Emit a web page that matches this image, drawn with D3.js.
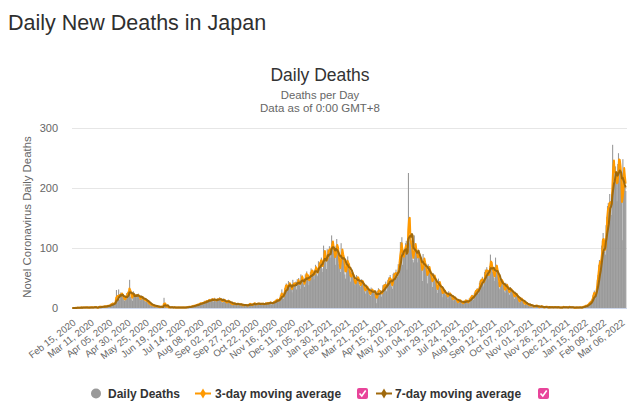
<!DOCTYPE html>
<html><head><meta charset="utf-8">
<script src="https://cdn.jsdelivr.net/npm/d3@7"></script>
<style>body{margin:0;background:#fff;} svg{display:block;font-family:"Liberation Sans",Arial,sans-serif;}</style>
</head><body><svg id="chart" width="640" height="411"></svg>
<script>
const startDate = "2020-02-15";
const deaths2020 = [
0,0,0,0,0,1,0,1,0,0,1,1,0,2,0,
1,1,0,2,1,1,0,1,0,2,1,1,2,0,1,2,1,2,0,0,1,2,3,2,1,3,1,2,3,4,2,
3,2,5,4,3,6,4,8,5,9,6,7,10,12,30,14,16,31,14,20,26,24,22,18,16,12,15,20,25,22,
28,23,47,19,14,26,12,28,21,18,20,23,18,22,24,17,15,13,21,18,16,14,12,16,10,14,11,9,8,6,7,
5,6,4,3,5,2,3,4,2,3,2,1,2,1,3,2,1,2,17,4,2,1,3,2,1,0,2,1,1,2,
1,0,1,2,0,1,1,0,2,1,0,1,1,0,2,1,0,1,2,1,1,2,3,1,2,3,2,4,3,4,5,
4,5,6,5,7,6,8,9,7,8,10,6,12,11,9,13,12,10,14,15,12,11,16,14,15,10,17,13,11,14,16,
13,15,18,12,14,11,9,16,13,12,10,9,8,11,14,10,9,7,8,6,5,9,8,7,6,5,8,6,7,6,
5,7,6,4,3,6,5,4,6,5,3,4,7,6,8,5,4,6,7,8,9,6,5,7,8,6,9,7,5,8,7,
6,8,5,7,9,8,6,10,7,9,8,11,6,8,10,9,12,10,14,13,15,12,11,16,22,20,31,18,15,26,
33,38,41,35,28,45,37,42,38,31,26,47,40,36,43,44,31,48,42,50,38,32,56,47,54,46,40,35,56,54,61
];
const deaths2021 = [
48,55,38,46,60,66,59,62,57,48,64,72,68,56,53,78,71,75,80,84,66,60,104,86,95,78,65,98,89,97,103,
94,84,121,110,101,95,88,72,104,115,96,91,73,66,60,108,94,90,85,79,56,49,78,72,86,69,64,55,
44,58,62,54,49,45,38,40,55,52,47,50,38,35,42,48,45,40,36,28,24,39,35,33,30,28,22,20,34,30,28,
26,30,24,22,8,21,29,33,27,25,30,19,24,38,35,40,33,44,28,39,47,51,44,55,46,36,32,57,59,52,
59,64,49,52,73,70,80,110,96,118,72,86,98,93,108,112,64,100,225,118,108,117,100,95,80,76,121,95,104,92,76,
85,96,88,73,82,64,45,90,79,78,71,66,58,41,73,70,62,55,52,47,35,58,54,51,44,40,30,25,49,43,
38,35,30,27,18,33,28,26,22,24,19,15,28,25,20,23,18,14,12,20,17,16,14,12,9,8,15,13,11,10,8,
9,7,12,10,14,13,11,9,8,16,15,18,20,22,17,14,25,27,30,28,33,29,24,42,45,48,44,52,40,36,60,
64,57,68,62,55,48,70,89,74,64,60,62,50,45,84,70,58,62,44,33,31,52,48,40,45,38,28,25,42,38,
36,32,26,22,35,30,28,29,25,18,15,27,24,20,19,14,10,9,18,15,14,12,11,6,5,10,8,7,6,5,4,
5,3,6,4,3,2,1,4,5,3,4,2,1,1,3,2,4,2,1,0,1,2,3,2,1,1,0,2,1,2,
1,2,0,1,3,1,0,2,1,2,0,1,1,0,2,1,3,0,1,2,1,0,1,2,3,0,1,2,1,0,1
];
const deaths2022 = [
0,1,0,2,1,0,1,2,1,0,2,1,3,2,4,3,5,2,6,8,7,10,12,9,15,21,25,29,18,22,36,
47,55,72,80,78,65,104,112,125,108,94,89,138,152,170,175,160,190,178,155,188,272,240,225,215,236,210,178,
240,258,245,238,225,192,113,248,230,222,205,195
];
const tickLabels = ["Feb 15, 2020","Mar 11, 2020","Apr 05, 2020","Apr 30, 2020","May 25, 2020","Jun 19, 2020","Jul 14, 2020","Aug 08, 2020","Sep 02, 2020","Sep 27, 2020","Oct 22, 2020","Nov 16, 2020","Dec 11, 2020","Jan 05, 2021","Jan 30, 2021","Feb 24, 2021","Mar 21, 2021","Apr 15, 2021","May 10, 2021","Jun 04, 2021","Jun 29, 2021","Jul 24, 2021","Aug 18, 2021","Sep 12, 2021","Oct 07, 2021","Nov 01, 2021","Nov 26, 2021","Dec 21, 2021","Jan 15, 2022","Feb 09, 2022","Mar 06, 2022"];
const yTicks = [0,100,200,300];
const seriesNames = ["Daily Deaths","3-day moving average","7-day moving average"];
const seriesColors = ["#999999","#FF9900","#A0690C"];

const daily = deaths2020.concat(deaths2021, deaths2022);
const fmt = d3.timeFormat("%b %d, %Y");
const start = d3.timeParse("%Y-%m-%d")(startDate);
const categories = daily.map((_, i) => fmt(d3.timeDay.offset(start, i)));
function movingAvg(arr, n) {
  return arr.map((_, i) => { const s = arr.slice(Math.max(0, i - n + 1), i + 1); return d3.mean(s); });
}
const ma3 = movingAvg(daily, 3);
const ma7 = movingAvg(daily, 7);

const svg = d3.select("#chart");
const W = 640, H = 411;
const pLeft = 72, pRight = 626, pTop = 128, pBottom = 308;
const x = d3.scaleBand().domain(categories).range([pLeft, pRight]).padding(0);
const y = d3.scaleLinear().domain([0, 300]).range([pBottom, pTop]);
const cx = c => x(c) + x.bandwidth() / 2;

svg.append("rect").attr("width", W).attr("height", H).attr("fill", "#fff");

// titles
svg.append("text").attr("x", 8).attr("y", 30).attr("font-size", 21.5).attr("fill", "#2f2f2f").text("Daily New Deaths in Japan");
svg.append("text").attr("x", 320).attr("y", 81).attr("text-anchor", "middle").attr("font-size", 17.5).attr("fill", "#333").text("Daily Deaths");
svg.append("text").attr("x", 320).attr("y", 99).attr("text-anchor", "middle").attr("font-size", 11.3).attr("fill", "#666").text("Deaths per Day");
svg.append("text").attr("x", 320).attr("y", 112).attr("text-anchor", "middle").attr("font-size", 11.5).attr("fill", "#666").text("Data as of 0:00 GMT+8");

// grid
svg.append("g").selectAll("line").data(yTicks.filter(v => v > 0)).join("line")
  .attr("x1", pLeft).attr("x2", pRight + 1).attr("y1", d => Math.round(y(d)) + 0.5).attr("y2", d => Math.round(y(d)) + 0.5)
  .attr("stroke", "#e6e6e6").attr("stroke-width", 1);

// y axis labels
const yAxis = d3.axisLeft(y).tickValues(yTicks).tickSize(0).tickPadding(0);
const gy = svg.append("g").attr("transform", `translate(58,0)`).call(yAxis);
gy.select(".domain").remove();
gy.selectAll("text").attr("font-size", 11).attr("fill", "#666").attr("font-family", "Liberation Sans, Arial, sans-serif").attr("dy", "0.32em");

svg.append("text").attr("transform", "translate(31,217) rotate(-90)").attr("text-anchor", "middle")
  .attr("font-size", 11.4).attr("fill", "#666").text("Novel Coronavirus Daily Deaths");

// bars
const bw = x.bandwidth();
svg.append("g").selectAll("rect").data(daily).join("rect")
  .attr("x", (d, i) => x(categories[i]))
  .attr("width", bw + 0.35)
  .attr("y", d => y(d))
  .attr("height", d => y(0) - y(d))
  .attr("fill", seriesColors[0]);

// x axis line
svg.append("line").attr("x1", pLeft).attr("x2", pRight + 1).attr("y1", pBottom + 0.5).attr("y2", pBottom + 0.5).attr("stroke", "#ccd6eb");

// lines
const line = d3.line().x((d, i) => cx(categories[i])).y(d => y(d));
svg.append("path").datum(ma3).attr("d", line).attr("fill", "none").attr("stroke", seriesColors[1]).attr("stroke-width", 2).attr("stroke-linejoin", "round");
svg.append("path").datum(ma7).attr("d", line).attr("fill", "none").attr("stroke", seriesColors[2]).attr("stroke-width", 2).attr("stroke-linejoin", "round");

// x tick labels
const xAxis = d3.axisBottom(x).tickValues(tickLabels).tickSize(0).tickPadding(0);
const gx = svg.append("g").attr("transform", `translate(0,${pBottom})`).call(xAxis);
gx.select(".domain").remove();
gx.selectAll(".tick text").attr("font-size", 9.6).attr("fill", "#666").attr("font-family", "Liberation Sans, Arial, sans-serif")
  .attr("text-anchor", "end").attr("dy", null).attr("y", 0)
  .attr("transform", "translate(4,16) rotate(-38)");

// legend
const lg = svg.append("g").attr("font-size", 12).attr("font-weight", "bold").attr("fill", "#333");
lg.append("circle").attr("cx", 96).attr("cy", 393.5).attr("r", 5).attr("fill", seriesColors[0]);
lg.append("text").attr("x", 108).attr("y", 398).text(seriesNames[0]);
function lineSym(x0, color) {
  lg.append("line").attr("x1", x0 - 8).attr("x2", x0 + 8).attr("y1", 393.5).attr("y2", 393.5).attr("stroke", color).attr("stroke-width", 2);
  lg.append("path").attr("d", d3.symbol(d3.symbolDiamond, 30)()).attr("transform", `translate(${x0},393.5)`).attr("fill", color);
}
function checkbox(x0) {
  lg.append("rect").attr("x", x0).attr("y", 388).attr("width", 11).attr("height", 11).attr("rx", 2).attr("fill", "#e8449a");
  lg.append("path").attr("d", `M${x0+2.5},${393.5} L${x0+4.8},${396} L${x0+8.7},${390.5}`).attr("fill", "none").attr("stroke", "#fff").attr("stroke-width", 1.6);
}
lineSym(203, seriesColors[1]);
lg.append("text").attr("x", 215).attr("y", 398).text(seriesNames[1]);
checkbox(357);
lineSym(384, seriesColors[2]);
lg.append("text").attr("x", 395).attr("y", 398).text(seriesNames[2]);
checkbox(538);
</script></body></html>
